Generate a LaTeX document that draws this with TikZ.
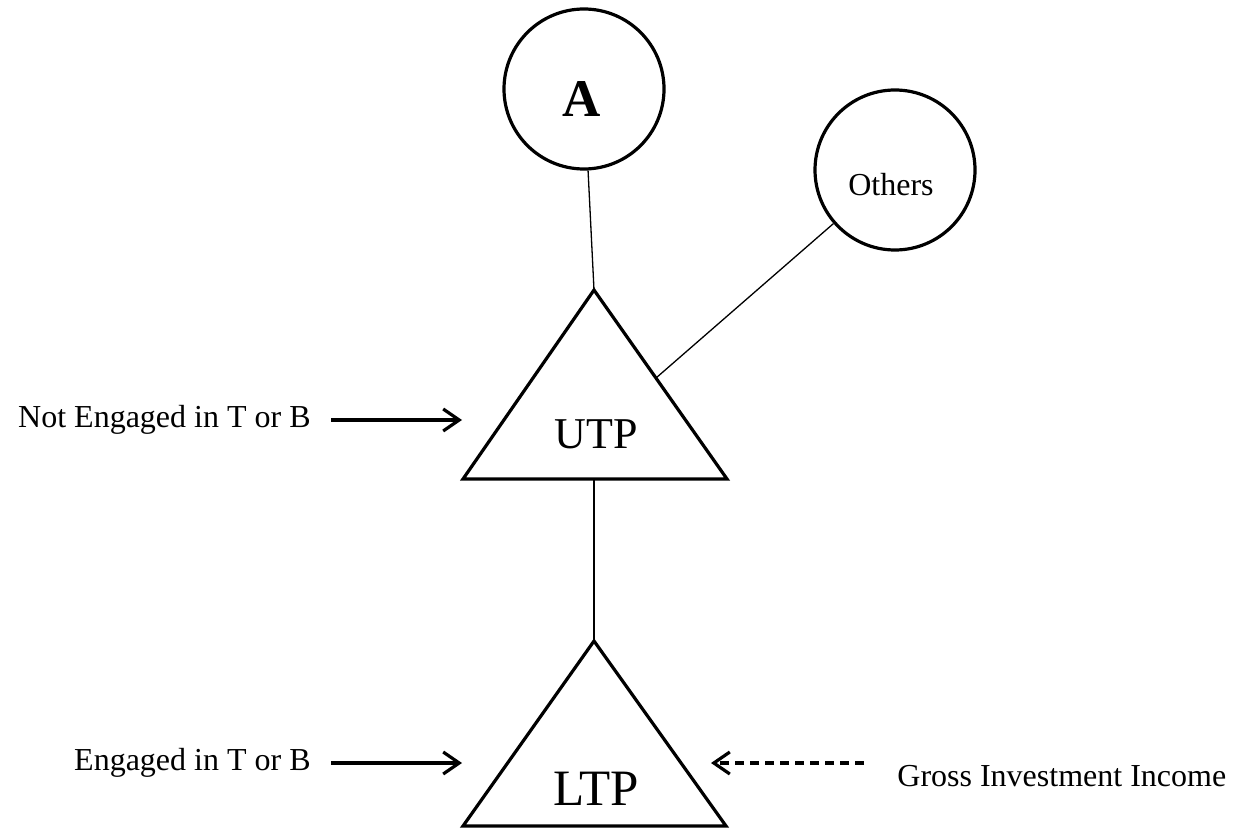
\documentclass[tikz,border=0pt]{standalone}
\usepackage{fontspec}
\setmainfont{Liberation Serif}
\usetikzlibrary{arrows.meta}

\begin{document}
\begin{tikzpicture}[x=0.5pt, y=-0.5pt, >={Straight Barb[length=8pt,width=11pt]},
    circ/.style={circle, draw, line width=1.6pt, minimum size=80pt, inner sep=0pt},
    tri/.style={draw, line width=1.6pt},
    lbl/.style={font=\fontsize{16}{19}\selectfont, inner ysep=0pt, inner xsep=10pt},
    link/.style={line width=0.65pt},
    arr/.style={->, line width=1.6pt}]
        \useasboundingbox (0,0) rectangle (1235,828);

        \node[circ, label={[xshift=-1pt, yshift=-5.25pt, font=\fontsize{26.5}{30}\selectfont\bfseries]center:A}] (a) at (584,89) {};
        \node[circ, label={[xshift=-2pt, yshift=-7.5pt, font=\fontsize{16}{19}\selectfont]center:Others}] (others) at (895,170) {};

        \draw[tri] (594,290) coordinate (utp-top) -- (727,479) coordinate (utp-r) -- (463,479) coordinate (utp-l) -- cycle;
        \draw[tri] (594,641) coordinate (ltp-top) -- (726,826) coordinate (ltp-r) -- (463,826) coordinate (ltp-l) -- cycle;
        \node[anchor=base, font=\fontsize{22}{26}\selectfont] (utp) at (596,448) {UTP};
        \node[anchor=base, font=\fontsize{25.5}{30}\selectfont] (ltp) at (596,805) {LTP};
        \coordinate (utp-base) at (594,479);
        \coordinate (utp-side) at (656,378);
        \coordinate (utp-in) at (462,420);
        \coordinate (ltp-in) at (462,763);
        \coordinate (ltp-out) at (711,763);
        \coordinate (gii-tail) at (864,763);

        \node[lbl, anchor=east] (ne) at (331,420) {Not Engaged in T or B};
        \node[lbl, anchor=east] (eng) at (331,763) {Engaged in T or B};
        \node[lbl, anchor=base west, inner xsep=0pt] (gii) at (897,786) {Gross Investment Income};

        \draw[link] (a) -- (utp-top);
        \draw[link] (others) -- (utp-side);
        \draw[link] (utp-base) -- (ltp-top);

        \draw[arr] (ne) -- (utp-in);
        \draw[arr] (eng) -- (ltp-in);
        \draw[arr, dash pattern=on 4.5pt off 3pt] (gii-tail) -- (ltp-out);
    \end{tikzpicture}
\end{document}
